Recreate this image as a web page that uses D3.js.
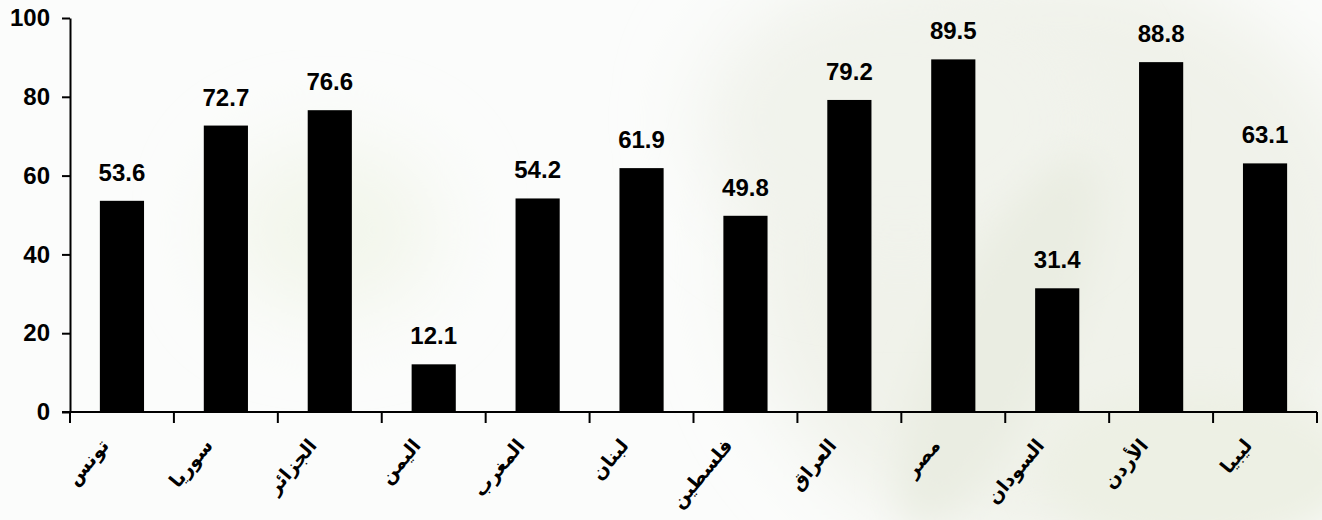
<!DOCTYPE html>
<html>
<head>
<meta charset="utf-8">
<script src="https://cdn.jsdelivr.net/npm/d3@7/dist/d3.min.js"></script>
<style>
  html, body { margin: 0; padding: 0; background: #fbfcfb; }
  svg { display: block; }
</style>
</head>
<body>
<svg id="chart" width="1322" height="520"></svg>
<script>
const categories = ["تونس", "سوريا", "الجزائر", "اليمن", "المغرب", "لبنان", "فلسطين", "العراق", "مصر", "السودان", "الأردن", "ليبيا"];
const values = [53.6, 72.7, 76.6, 12.1, 54.2, 61.9, 49.8, 79.2, 89.5, 31.4, 88.8, 63.1];
const yTicks = [0, 20, 40, 60, 80, 100];

const W = 1322, H = 520;
const margin = { left: 70, right: 5, top: 18, bottom: 108 };
const svg = d3.select("#chart");

// soft background (faint leaf image impression)
const defs = svg.append("defs");
const blur = defs.append("filter").attr("id", "blur").attr("x", "-50%").attr("y", "-50%").attr("width", "200%").attr("height", "200%");
blur.append("feGaussianBlur").attr("stdDeviation", 40);
const blur2 = defs.append("filter").attr("id", "blur2").attr("x", "-50%").attr("y", "-50%").attr("width", "200%").attr("height", "200%");
blur2.append("feGaussianBlur").attr("stdDeviation", 18);

const bg = svg.append("g");
bg.append("rect").attr("width", W).attr("height", H).attr("fill", "#fbfcfb");
bg.append("ellipse").attr("cx", 1060).attr("cy", 260).attr("rx", 320).attr("ry", 300).attr("fill", "#f0f2ea").attr("filter", "url(#blur)");
bg.append("ellipse").attr("cx", 900).attr("cy", 120).attr("rx", 200).attr("ry", 140).attr("fill", "#f1f3ec").attr("filter", "url(#blur)");
bg.append("ellipse").attr("cx", 1200).attr("cy", 470).attr("rx", 160).attr("ry", 80).attr("fill", "#edf0e4").attr("filter", "url(#blur2)");
bg.append("ellipse").attr("cx", 330).attr("cy", 230).attr("rx", 110).attr("ry", 90).attr("fill", "#f3f6ec").attr("filter", "url(#blur)");
bg.append("ellipse").attr("cx", 1000).attr("cy", 340).attr("rx", 60).attr("ry", 200).attr("fill", "#eaede2").attr("filter", "url(#blur2)").attr("transform", "rotate(25,1000,340)");

const x = d3.scaleBand().domain(categories).range([margin.left, 1317]).padding(0);
const y = d3.scaleLinear().domain([0, 100]).range([412, margin.top]);

const barW = x.bandwidth() * 0.425;

// bars
svg.append("g").selectAll("rect").data(values).join("rect")
  .attr("x", (d, i) => x(categories[i]) + x.bandwidth() / 2 - barW / 2)
  .attr("y", d => y(d))
  .attr("width", barW)
  .attr("height", d => y(0) - y(d))
  .attr("fill", "#000");

// value labels
svg.append("g").selectAll("text").data(values).join("text")
  .attr("x", (d, i) => x(categories[i]) + x.bandwidth() / 2)
  .attr("y", d => y(d) - 20)
  .attr("text-anchor", "middle")
  .attr("font-family", "Liberation Sans, Arial, sans-serif")
  .attr("font-weight", "bold")
  .attr("font-size", 24)
  .attr("fill", "#000")
  .text(d => d.toFixed(1));

// y axis
const yAxis = svg.append("g")
  .attr("transform", `translate(${margin.left},0)`)
  .call(d3.axisLeft(y).tickValues(yTicks).tickSize(8).tickSizeOuter(0).tickPadding(12));
yAxis.selectAll("path, line").attr("stroke", "#000").attr("stroke-width", 2);
yAxis.selectAll("text")
  .attr("font-family", "Liberation Sans, Arial, sans-serif")
  .attr("font-weight", "bold")
  .attr("font-size", 24)
  .attr("fill", "#000");

// x axis with ticks at band boundaries
const xg = svg.append("g");
xg.append("line")
  .attr("x1", margin.left - 8).attr("x2", 1317)
  .attr("y1", y(0)).attr("y2", y(0))
  .attr("stroke", "#000").attr("stroke-width", 2);
const bounds = categories.map(c => x(c)).concat([x(categories[categories.length - 1]) + x.bandwidth()]);
xg.selectAll("line.tick").data(bounds).join("line")
  .attr("class", "tick")
  .attr("x1", d => d).attr("x2", d => d)
  .attr("y1", y(0)).attr("y2", y(0) + 11)
  .attr("stroke", "#000").attr("stroke-width", 2);

// category labels
xg.selectAll("text").data(categories).join("text")
  .attr("transform", d => `translate(${x(d) + x.bandwidth() / 2 - 12},${y(0) + 34}) rotate(-50)`)
  .attr("text-anchor", "end")
  .attr("font-family", "DejaVu Sans, sans-serif")
  .attr("font-weight", "bold")
  .attr("font-size", 19)
  .attr("fill", "#000")
  .text(d => d);
</script>
</body>
</html>
